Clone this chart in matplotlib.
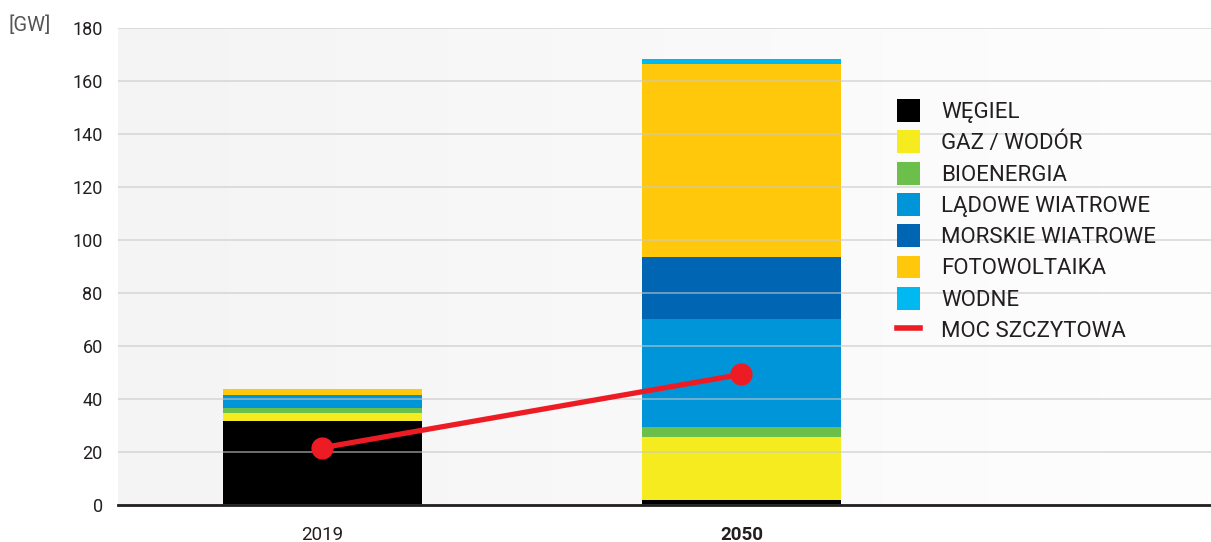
import numpy as np
import matplotlib
matplotlib.use("Agg")
import matplotlib.pyplot as plt
from matplotlib.patches import Patch
from matplotlib.lines import Line2D

plt.rcParams['font.family'] = ['Roboto', 'DejaVu Sans']

years = ['2019', '2050']
sources = ['WĘGIEL', 'GAZ / WODÓR', 'BIOENERGIA', 'LĄDOWE WIATROWE',
           'MORSKIE WIATROWE', 'FOTOWOLTAIKA', 'WODNE']
colors = ['#000000', '#f5eb1e', '#6dbf4b', '#0095d9', '#0066b3', '#ffc80b', '#00b9f0']

wegiel = [31.8, 1.9]
gaz = [3.0, 23.9]
bio = [1.9, 3.6]
ladowe = [4.7, 40.8]
morskie = [0.0, 23.5]
foto = [2.2, 72.7]
wodne = [0.2, 1.9]
peak = [21.6, 49.3]

series = [wegiel, gaz, bio, ladowe, morskie, foto, wodne]

fig = plt.figure(figsize=(12.11, 5.42), dpi=100)
ax = fig.add_axes([118 / 1211, 37 / 542, 1 - 118 / 1211, 477 / 542])

# light gradient background
grad = np.linspace(0, 1, 256).reshape(1, -1)
ax.imshow(grad, cmap=matplotlib.colors.LinearSegmentedColormap.from_list('bg', ['#f4f4f4', '#fefefe']),
          extent=[0, 1, 0, 1], transform=ax.transAxes, aspect='auto', zorder=0)

x = np.arange(len(years))
bottom = np.zeros(len(years))
for vals, c in zip(series, colors):
    ax.bar(x, vals, width=0.475, bottom=bottom, color=c, zorder=2)
    bottom += np.array(vals)

ax.plot(x, peak, color='#ed1c24', lw=3.8, marker='o', markersize=15, zorder=4)

ax.set_xlim(-0.487, 2.12)
ax.set_ylim(0, 180)
ax.set_yticks(range(0, 181, 20))
ax.grid(axis='y', color='#c8c8c8', alpha=0.6, lw=1.3, zorder=3)
ax.set_axisbelow(False)
for s in ['top', 'right', 'left']:
    ax.spines[s].set_visible(False)
ax.spines['bottom'].set_color('#231f20')
ax.spines['bottom'].set_linewidth(2)
ax.spines['bottom'].set_zorder(5)

ax.set_xticks(x)
ax.set_xticklabels(years, fontsize=13.5, color='#231f20')
ax.get_xticklabels()[1].set_fontweight('bold')
ax.tick_params(axis='x', length=0, pad=15)
ax.tick_params(axis='y', length=0, pad=11, labelsize=13, labelcolor='#231f20')

fig.text(9 / 1211, 1 - 25 / 542, '[GW]', fontsize=14.5, color='#555555', va='center', ha='left')

handles = [Patch(facecolor=c, edgecolor='none') for c in colors]
handles.append(Line2D([0], [0], color='#ed1c24', lw=4))
labels = sources + ['MOC SZCZYTOWA']
leg = ax.legend(handles, labels, loc='upper left', bbox_to_anchor=(0.713, 0.851),
                frameon=False, fontsize=16, handlelength=1.03, handleheight=1.21,
                handletextpad=0.95, labelspacing=0.33, borderpad=0, borderaxespad=0)
for t in leg.get_texts():
    t.set_color('#231f20')

fig.savefig('out.png', dpi=100)
